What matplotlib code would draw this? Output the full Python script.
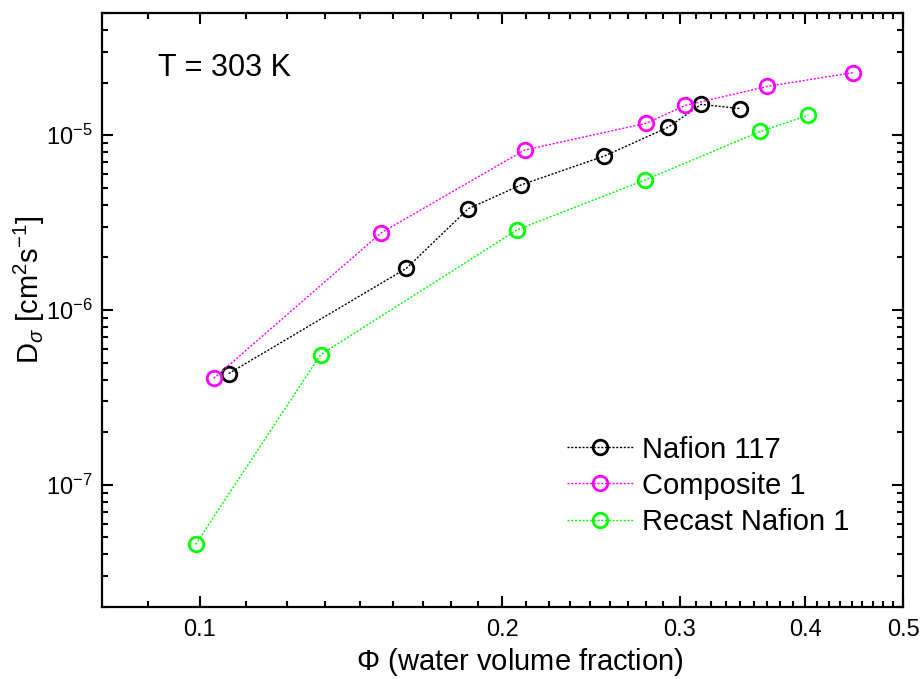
import numpy as np
import matplotlib
matplotlib.use("Agg")
import matplotlib.pyplot as plt
from matplotlib.ticker import FixedLocator, NullFormatter, LogLocator

plt.rcParams['font.family'] = ['Liberation Sans', 'DejaVu Sans']
plt.rcParams['mathtext.fontset'] = 'custom'
plt.rcParams['mathtext.rm'] = 'Liberation Sans'
plt.rcParams['mathtext.it'] = 'Liberation Sans:italic'
plt.rcParams['mathtext.sf'] = 'Liberation Sans'

# Water volume fraction and diffusion coefficient for each membrane
phi_nafion117 = [0.1069, 0.1605, 0.185, 0.2088, 0.2525, 0.2922, 0.3151, 0.3444]
d_nafion117 = [4.33e-7, 1.73e-6, 3.80e-6, 5.20e-6, 7.60e-6, 1.11e-5, 1.50e-5, 1.42e-5]

phi_composite1 = [0.1033, 0.1516, 0.2104, 0.2779, 0.3039, 0.3664, 0.4463]
d_composite1 = [4.06e-7, 2.77e-6, 8.22e-6, 1.17e-5, 1.48e-5, 1.90e-5, 2.28e-5]

phi_recast1 = [0.0991, 0.1319, 0.2069, 0.2773, 0.3607, 0.4027]
d_recast1 = [4.56e-8, 5.55e-7, 2.88e-6, 5.55e-6, 1.05e-5, 1.30e-5]

series_labels = ["Nafion 117", "Composite 1", "Recast Nafion 1"]
series_colors = ["#000000", "#ff00ff", "#00ff00"]

x_major = [0.1, 0.2, 0.3, 0.4, 0.5]
x_major_labels = ["0.1", "0.2", "0.3", "0.4", "0.5"]

fig = plt.figure(figsize=(9.22, 6.79), dpi=100)
ax = fig.add_axes([0.1106, 0.106, 0.8688, 0.8749])

for xs, ys, lab, col in zip([phi_nafion117, phi_composite1, phi_recast1],
                            [d_nafion117, d_composite1, d_recast1],
                            series_labels, series_colors):
    ax.plot(xs, ys, linestyle=(0, (1.5, 1.2)), linewidth=1.0, color=col,
            marker='o', markersize=10.5, markerfacecolor='none',
            markeredgecolor=col, markeredgewidth=2.0, label=lab)

ax.set_xscale('log')
ax.set_yscale('log')
ax.set_xlim(0.08, 0.5)
ax.set_ylim(2e-8, 5e-5)

# x ticks: labelled majors, minor ticks splitting each interval into nine
ax.xaxis.set_major_locator(FixedLocator(x_major))
ax.set_xticklabels(x_major_labels)
minor_x = [0.1 - 0.1 / 9]
for a in x_major[:-1]:
    minor_x += [a + i * 0.1 / 9 for i in range(1, 9)]
ax.xaxis.set_minor_locator(FixedLocator(minor_x))
ax.xaxis.set_minor_formatter(NullFormatter())

ax.yaxis.set_major_locator(LogLocator(base=10, numticks=10))
ax.yaxis.set_minor_locator(LogLocator(base=10, subs=np.arange(2, 10), numticks=20))
ax.yaxis.set_minor_formatter(NullFormatter())

ax.tick_params(which='both', direction='in', top=True, right=True, width=1.5,
               labelsize=17)
ax.tick_params(which='major', length=8)
ax.tick_params(which='minor', length=4.5)
ax.tick_params(axis='x', which='major', pad=8.5)
ax.tick_params(axis='y', which='major', pad=7)
for s in ax.spines.values():
    s.set_linewidth(1.6)

ax.set_xlabel(r"$\Phi$ (water volume fraction)", fontsize=21)
ax.xaxis.set_label_coords(0.522, -0.066)
ax.set_ylabel(r"D$_\sigma$ [cm$^2$s$^{-1}$]", fontsize=21)
ax.yaxis.set_label_coords(-0.069, 0.535)

ax.text(0.07, 0.907, "T = 303 K", fontsize=22, ha='left', va='center',
        transform=ax.transAxes)

ax.legend(loc='upper left', bbox_to_anchor=(0.5805, 0.2887), frameon=False,
          borderpad=0, borderaxespad=0, fontsize=21, handlelength=2.26,
          handletextpad=0.31, labelspacing=0.28)

fig.savefig("out.png", dpi=100)
